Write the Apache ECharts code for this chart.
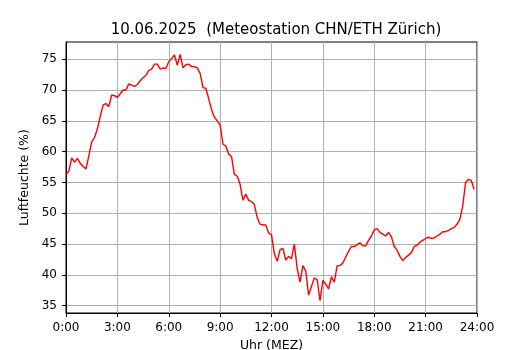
<!DOCTYPE html>
<html>
<head>
<meta charset="utf-8">
<title>Luftfeuchte 10.06.2025</title>
<script src="https://cdn.jsdelivr.net/npm/echarts@6/dist/echarts.min.js"></script>
<style>
  html, body { margin: 0; padding: 0; background: #fff; }
  #chart { width: 530px; height: 350px; }
</style>
</head>
<body>
<div id="chart"></div>
<script>
// Messwerte alle 10 Minuten, 0:00 bis 23:50
const minutes = Array.from({ length: 144 }, (_, i) => i * 10);
const humidity = [
  56.3, 56.8, 59.0, 58.3, 58.9, 58.1, 57.6, 57.2, 59.3, 61.6, 62.3, 63.7,
  65.7, 67.6, 67.8, 67.3, 69.2, 69.1, 68.8, 69.4, 70.0, 70.0, 71.0, 70.8,
  70.6, 70.9, 71.5, 72.0, 72.4, 73.2, 73.4, 74.2, 74.2, 73.4, 73.6, 73.5,
  74.6, 75.1, 75.7, 74.0, 75.8, 73.6, 74.1, 74.2, 73.8, 73.8, 73.6, 72.7,
  70.4, 70.3, 68.6, 66.8, 65.6, 65.0, 64.3, 61.2, 60.9, 59.6, 59.2, 56.3,
  56.0, 54.7, 52.1, 53.1, 52.1, 51.9, 51.4, 49.3, 48.2, 48.1, 48.1, 46.8,
  46.5, 43.4, 42.2, 44.1, 44.3, 42.4, 43.0, 42.6, 45.0, 41.0, 38.8, 41.5,
  40.6, 36.7, 38.1, 39.5, 39.2, 35.8, 39.1, 38.5, 37.7, 39.7, 38.8, 41.5,
  41.5, 41.9, 42.9, 43.8, 44.6, 44.6, 44.9, 45.2, 44.7, 44.7, 45.6, 46.3,
  47.3, 47.5, 46.9, 46.6, 46.3, 46.9, 46.2, 44.6, 44.0, 43.0, 42.3, 42.8,
  43.2, 43.6, 44.6, 44.8, 45.3, 45.6, 45.9, 46.1, 45.9, 46.0, 46.3, 46.6,
  47.0, 47.0, 47.2, 47.5, 47.7, 48.2, 49.0, 51.2, 55.0, 55.5, 55.3, 53.9
];
const yTicks = [35, 40, 45, 50, 55, 60, 65, 70, 75];
const xTicks = [0, 180, 360, 540, 720, 900, 1080, 1260, 1440];

const font = 'DejaVu Sans';
const chart = echarts.init(document.getElementById('chart'));

const option = {
  animation: false,
  backgroundColor: '#fff',
  title: {
    text: '10.06.2025  (Meteostation CHN/ETH Zürich)',
    left: 271,
    textAlign: 'center',
    top: 18,
    textStyle: { fontFamily: font, fontSize: 15, fontWeight: 'normal', color: '#000' }
  },
  grid: {
    left: 66, right: 53, top: 42, bottom: 37,
    outerBoundsMode: 'none',
    containLabel: false,
    show: true, borderColor: '#000', borderWidth: 1, backgroundColor: 'transparent'
  },
  xAxis: {
    type: 'value',
    min: 0, max: 1440, interval: 180,
    name: 'Uhr (MEZ)',
    nameLocation: 'middle',
    nameGap: 26,
    nameTextStyle: { fontFamily: font, fontSize: 12.5, color: '#000' },
    axisLine: { show: true, lineStyle: { color: '#000', width: 1 } },
    axisTick: { show: true, inside: false, length: 4, lineStyle: { color: '#000' }, customValues: xTicks },
    axisLabel: {
      margin: 9, fontFamily: font, fontSize: 12, color: '#000',
      customValues: xTicks,
      formatter: v => Math.round(v / 60) + ':00'
    },
    splitLine: { show: true, lineStyle: { color: '#b0b0b0', width: 1 } }
  },
  yAxis: {
    type: 'value',
    min: 33.8, max: 77.8,
    name: 'Luftfeuchte (%)',
    nameLocation: 'middle',
    nameGap: 31,
    nameTextStyle: { fontFamily: font, fontSize: 12.5, color: '#000' },
    axisLine: { show: true, lineStyle: { color: '#000', width: 1 } },
    axisTick: { show: true, inside: false, length: 4, lineStyle: { color: '#000' }, customValues: yTicks },
    axisLabel: { margin: 9, fontFamily: font, fontSize: 12, color: '#000', customValues: yTicks },
    splitLine: { show: true, lineStyle: { color: '#b0b0b0', width: 1 } }
  },
  series: [{
    type: 'line',
    data: minutes.map((m, i) => [m, humidity[i]]),
    showSymbol: false,
    lineStyle: { color: '#ff0000', width: 1.4 },
    itemStyle: { color: '#ff0000' }
  }]
};

chart.setOption(option);
window.addEventListener('resize', function () {
  chart.resize();
});
</script>
</body>
</html>
